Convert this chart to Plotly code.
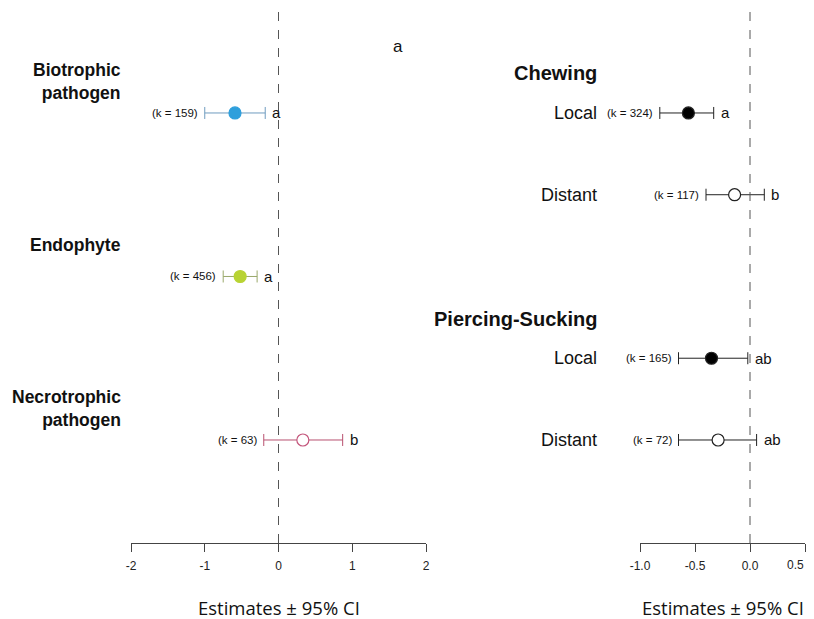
import plotly.graph_objects as go

# ---------------- data ----------------
left_groups = ["Biotrophic<br>pathogen", "Endophyte", "Necrotrophic<br>pathogen"]
left_est = [-0.59, -0.52, 0.33]
left_lo = [-1.00, -0.75, -0.20]
left_hi = [-0.18, -0.29, 0.87]
left_k = [159, 456, 63]
left_letters = ["a", "a", "b"]
left_fill = ["#2e9fdc", "#b8d333", "white"]
left_edge = ["#2e9fdc", "#b8d333", "#c4567c"]
left_bar = ["#6f9cbf", "#9aa86a", "#b8506f"]

right_heads = ["Chewing", "Piercing-Sucking"]
right_types = ["Local", "Distant", "Local", "Distant"]
right_est = [-0.56, -0.14, -0.35, -0.29]
right_lo = [-0.82, -0.40, -0.65, -0.65]
right_hi = [-0.33, 0.13, -0.02, 0.06]
right_k = [324, 117, 165, 72]
right_letters = ["a", "b", "ab", "ab"]
right_fill = ["black", "white", "black", "white"]

left_ticks = [-2, -1, 0, 1, 2]
left_ticktext = ["-2", "-1", "0", "1", "2"]
right_ticks = [-1.0, -0.5, 0.0, 0.5]
right_ticktext = ["-1.0", "-0.5", "0.0", "0.5"]
axis_title = "Estimates ± 95% CI"
panel_label = "a"

# row positions (layout)
left_rows = [0, 2, 4]
left_label_rows = [-0.38, 1.615, 3.62]
right_rows = [0, 1, 3, 4]
right_head_rows = [-0.49, 2.52]

FONT = "Liberation Sans, Arial, sans-serif"
W, H = 806, 611  # page body has an 8px margin
T, B = 4, 76
PH = H - T - B

fig = go.Figure()

for i in range(len(left_groups)):
    fig.add_trace(go.Scatter(
        x=[left_est[i]], y=[left_rows[i]], mode="markers",
        marker=dict(size=12, color=left_fill[i], line=dict(color=left_edge[i], width=1.2)),
        error_x=dict(type="data", symmetric=False,
                     array=[left_hi[i] - left_est[i]], arrayminus=[left_est[i] - left_lo[i]],
                     color=left_bar[i], thickness=1, width=6),
        xaxis="x", yaxis="y", showlegend=False, hoverinfo="skip"))

for i in range(len(right_types)):
    fig.add_trace(go.Scatter(
        x=[right_est[i]], y=[right_rows[i]], mode="markers",
        marker=dict(size=12, color=right_fill[i], line=dict(color="#222222", width=1.2)),
        error_x=dict(type="data", symmetric=False,
                     array=[right_hi[i] - right_est[i]], arrayminus=[right_est[i] - right_lo[i]],
                     color="#222222", thickness=1, width=6),
        xaxis="x2", yaxis="y", showlegend=False, hoverinfo="skip"))

ann = []
for i in range(len(left_groups)):
    ann.append(dict(x=left_lo[i], y=left_rows[i], xref="x", yref="y", text=f"(k = {left_k[i]})",
                    xanchor="right", xshift=-5, showarrow=False, font=dict(size=11.5, color="#111", family=FONT)))
    ann.append(dict(x=left_hi[i], y=left_rows[i], xref="x", yref="y", text=left_letters[i],
                    xanchor="left", xshift=5, showarrow=False, font=dict(size=15, color="#111", family=FONT)))
    ann.append(dict(x=115 / W, y=left_label_rows[i], xref="paper", yref="y", text=f"<b>{left_groups[i]}</b>",
                    xanchor="right", align="right", showarrow=False, font=dict(size=17.5, color="#111", family=FONT)))

for i in range(len(right_types)):
    ann.append(dict(x=right_lo[i], y=right_rows[i], xref="x2", yref="y", text=f"(k = {right_k[i]})",
                    xanchor="right", xshift=-5, showarrow=False, font=dict(size=11.5, color="#111", family=FONT)))
    ann.append(dict(x=right_hi[i], y=right_rows[i], xref="x2", yref="y", text=right_letters[i],
                    xanchor="left", xshift=5, showarrow=False, font=dict(size=15, color="#111", family=FONT)))
    ann.append(dict(x=591 / W, y=right_rows[i], xref="paper", yref="y", text=right_types[i],
                    xanchor="right", showarrow=False, font=dict(size=18, color="#111", family=FONT)))
for j in range(len(right_heads)):
    ann.append(dict(x=591 / W, y=right_head_rows[j], xref="paper", yref="y", text=f"<b>{right_heads[j]}</b>",
                    xanchor="right", showarrow=False, font=dict(size=20, color="#111", family=FONT)))

ann.append(dict(x=390 / W, y=-0.81, xref="paper", yref="y", text=panel_label, xanchor="center",
                showarrow=False, font=dict(size=17, color="#111", family=FONT)))

# last right tick label kept inside the visible page edge
ann.append(dict(x=right_ticks[-1], y=0, xref="x2", yref="paper", text=right_ticktext[-1],
                xanchor="right", yanchor="middle", yshift=-22, xshift=1, showarrow=False,
                font=dict(size=12, color="#222", family=FONT)))

# axis titles
for xr in ["x domain", "x2 domain"]:
    ann.append(dict(x=0.5, y=-64 / PH, xref=xr, yref="paper", text=axis_title, xanchor="center",
                    yanchor="middle", showarrow=False,
                    font=dict(size=18.5, color="#111", family="Open Sans, sans-serif")))

shapes = [
    dict(type="line", xref="x", yref="paper", x0=0, x1=0, y0=0, y1=1,
         line=dict(color="#555", width=1, dash="dash")),
    dict(type="line", xref="x2", yref="paper", x0=0, x1=0, y0=0, y1=1,
         line=dict(color="#555", width=1, dash="dash")),
]

axis_common = dict(showgrid=False, zeroline=False, showline=True, linecolor="#444", linewidth=1,
                   ticks="outside", ticklen=8, tickcolor="#444", tickwidth=1, automargin=False,
                   ticklabelstandoff=4, ticklabeloverflow="allow",
                   tickfont=dict(size=12, color="#222", family=FONT))

fig.update_layout(
    width=W, height=H,
    margin=dict(l=0, r=0, t=T, b=B, autoexpand=False),
    paper_bgcolor="white", plot_bgcolor="white",
    xaxis=dict(domain=[123 / W, 418 / W], range=[-2, 2], tickvals=left_ticks, ticktext=left_ticktext,
               anchor="y", **axis_common),
    xaxis2=dict(domain=[632 / W, 797 / W], range=[-1.0, 0.5], tickvals=right_ticks,
                ticktext=right_ticktext[:-1] + [""], anchor="y", **axis_common),
    yaxis=dict(range=[5.26, -1.235], visible=False, domain=[0, 1], automargin=False),
    annotations=ann, shapes=shapes,
)

fig.write_html("out.html")
